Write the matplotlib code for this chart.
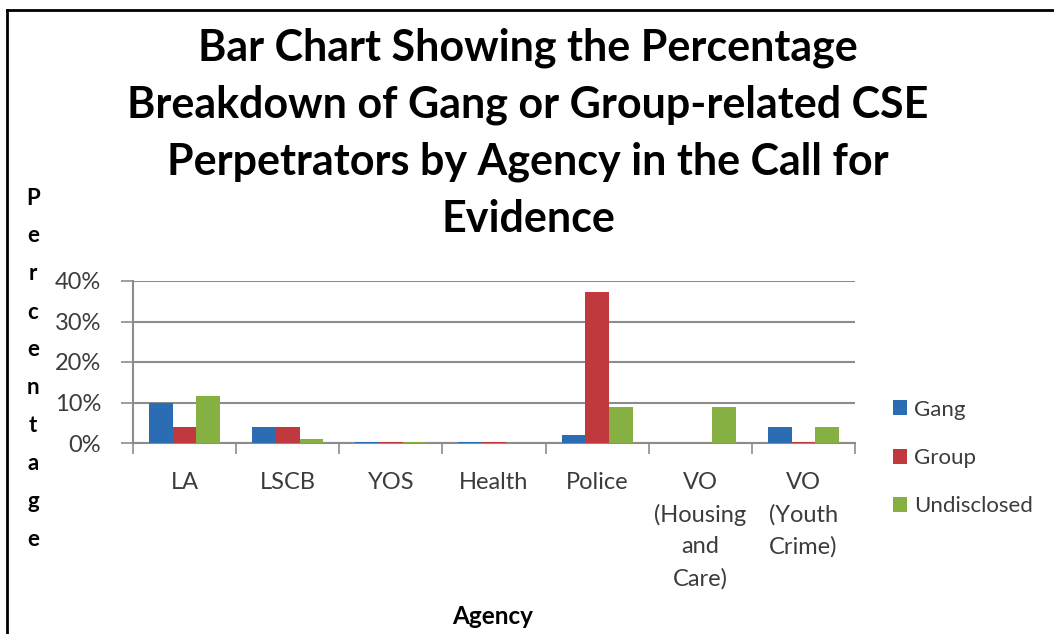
import numpy as np
import matplotlib
matplotlib.use("Agg")
import matplotlib.pyplot as plt
from matplotlib.lines import Line2D
from matplotlib.ticker import FuncFormatter

plt.rcParams['font.family'] = ['Lato', 'DejaVu Sans']

agencies = ["LA", "LSCB", "YOS", "Health", "Police",
            "VO\n(Housing\nand\nCare)", "VO\n(Youth\nCrime)"]
gang = [10, 4, 0.3, 0.3, 2, 0, 4]
group = [4, 4, 0.3, 0.3, 37.2, 0, 0.3]
undisclosed = [11.7, 1, 0.3, 0, 9, 9, 4]
series = ["Gang", "Group", "Undisclosed"]
colors = ["#2A6DB3", "#C0393E", "#87B043"]

fig = plt.figure(figsize=(10.54, 6.34), dpi=100)
ax = fig.add_axes([133/1054, 1-443/634, (855-133)/1054, (443-281)/634])

x = np.arange(len(agencies))
w = 0.23
for i, (vals, name, c) in enumerate(zip([gang, group, undisclosed], series, colors)):
    ax.bar(x + (i-1)*w, np.array(vals)/100, w, color=c, label=name, zorder=3)

ax.set_xlim(-0.5, len(agencies)-0.5)
ax.set_ylim(0, 0.4)
ax.set_yticks([0, 0.1, 0.2, 0.3, 0.4])
ax.yaxis.set_major_formatter(FuncFormatter(lambda v, p: f"{v*100:.0f}%"))
ax.yaxis.grid(True, color="#8c8c8c", linewidth=1.5, zorder=0)
ax.set_xticks(x)
ax.set_xticklabels(agencies, linespacing=1.6)
ax.set_xticks(np.arange(-0.5, len(agencies)), minor=True)
ax.tick_params(axis='x', which='major', length=0, pad=21, labelsize=17, labelcolor="#3c3c3c")
ax.tick_params(axis='x', which='minor', length=8, width=1.2, color="#8c8c8c", direction='out')
ax.tick_params(axis='y', length=9, width=1.2, color="#8c8c8c", pad=14, labelsize=17, labelcolor="#3c3c3c")
for s in ["top", "right"]:
    ax.spines[s].set_visible(False)
for s in ["left", "bottom"]:
    ax.spines[s].set_color("#8c8c8c")
    ax.spines[s].set_linewidth(1.5)

fig.text(528/1054, 1-133/634,
         "Bar Chart Showing the Percentage\nBreakdown of Gang or Group-related CSE\n"
         "Perpetrators by Agency in the Call for\nEvidence",
         ha='center', va='center', fontsize=31, fontweight='bold', linespacing=1.5)

ylabel = "Percentage"
for k, ch in enumerate(ylabel):
    fig.text(33/1054, 1-(198 + k*38)/634, ch, ha='center', va='center',
             fontsize=16, fontweight='bold')

fig.text(493/1054, 1-617/634, "Agency", ha='center', va='center',
         fontsize=17.5, fontweight='bold')

fig.legend(loc='center left', bbox_to_anchor=(893/1054, 1-458/634), frameon=False,
           borderaxespad=0, borderpad=0,
           fontsize=16, handlelength=0.65, handleheight=0.65, handletextpad=0.3,
           labelspacing=1.28, labelcolor="#3c3c3c")

# picture frame
fig.add_artist(Line2D([7/1054, 7/1054], [0, 1-10/634], color='black', linewidth=2,
                      transform=fig.transFigure))
fig.add_artist(Line2D([7/1054, 1], [1-10/634, 1-10/634], color='black', linewidth=2,
                      transform=fig.transFigure))

fig.savefig("out.png", dpi=100)
